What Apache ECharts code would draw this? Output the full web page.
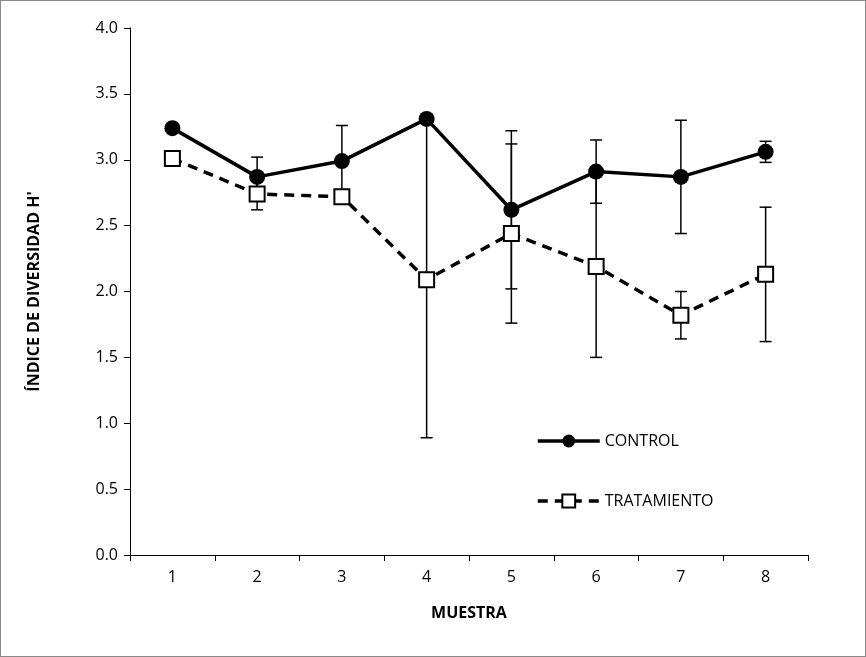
<!DOCTYPE html>
<html><head><meta charset="utf-8">
<script src="https://cdn.jsdelivr.net/npm/echarts@6/dist/echarts.min.js"></script>
<style>html,body{margin:0;padding:0;background:#fff}#c{width:864px;height:655px;border:1px solid #888}</style>
</head><body><div id="c"></div>
<script>
var muestras = ['1','2','3','4','5','6','7','8'];
var control = [3.24, 2.87, 2.99, 3.31, 2.62, 2.91, 2.87, 3.06];
var controlErr = [0.03, 0.15, 0.27, 0.03, 0.60, 0.24, 0.43, 0.08];
var tratamiento = [3.01, 2.74, 2.72, 2.09, 2.44, 2.19, 1.82, 2.13];
var tratamientoErr = [0.02, 0.12, 0.03, 1.20, 0.68, 0.69, 0.18, 0.51];

var chart = echarts.init(document.getElementById('c'));
var fnt = '"Open Sans", "Liberation Sans", sans-serif';

var errData = function(vals, errs){
    return vals.map(function(v, i){ return [i, v - errs[i], v + errs[i]]; });
};
var renderErr = function(params, api){
    var x = api.value(0);
    var lo = api.coord([x, api.value(1)]);
    var hi = api.coord([x, api.value(2)]);
    var w = 6;
    var st = {stroke: '#000', lineWidth: 1.5};
    return {type: 'group', children: [
        {type: 'line', shape: {x1: lo[0], y1: lo[1], x2: hi[0], y2: hi[1]}, style: st},
        {type: 'line', shape: {x1: lo[0]-w, y1: lo[1], x2: lo[0]+w, y2: lo[1]}, style: st},
        {type: 'line', shape: {x1: hi[0]-w, y1: hi[1], x2: hi[0]+w, y2: hi[1]}, style: st}
    ]};
};

chart.setOption({
    animation: false,
    textStyle: {fontFamily: fnt},
    grid: {left: 129, right: 57, top: 27, bottom: 101},
    legend: {
        orient: 'vertical', left: 530, top: 427, itemGap: 44, itemWidth: 62, itemHeight: 16,
        textStyle: {fontSize: 16, color: '#000', fontFamily: fnt},
        lineStyle: {width: 3.5},
        data: ['CONTROL', 'TRATAMIENTO']
    },
    xAxis: {
        type: 'category', data: muestras, boundaryGap: true,
        name: 'MUESTRA', nameLocation: 'middle', nameGap: 50,
        nameTextStyle: {fontSize: 16, fontWeight: 'bold', color: '#000'},
        axisLine: {lineStyle: {color: '#000', width: 1}},
        axisTick: {show: true, length: 6, lineStyle: {color: '#000'}},
        axisLabel: {fontSize: 16, color: '#000', margin: 14}
    },
    yAxis: {
        type: 'value', min: 0, max: 4, interval: 0.5,
        name: "ÍNDICE DE DIVERSIDAD H'", nameLocation: 'middle', nameGap: 88,
        nameTextStyle: {fontSize: 16, fontWeight: 'bold', color: '#000'},
        splitLine: {show: false},
        axisLine: {show: true, lineStyle: {color: '#000', width: 1}},
        axisTick: {show: true, length: 6, lineStyle: {color: '#000'}},
        axisLabel: {fontSize: 16, color: '#000', margin: 12, formatter: function(v){ return v.toFixed(1); }}
    },
    series: [
        {type: 'custom', renderItem: renderErr, data: errData(control, controlErr), z: 1, silent: true},
        {type: 'custom', renderItem: renderErr, data: errData(tratamiento, tratamientoErr), z: 1, silent: true},
        {name: 'CONTROL', type: 'line', data: control, symbol: 'circle', symbolSize: 16, z: 3,
         lineStyle: {color: '#000', width: 3.5}, itemStyle: {color: '#000'}},
        {name: 'TRATAMIENTO', type: 'line', data: tratamiento, symbol: 'rect', symbolSize: 15, z: 4,
         lineStyle: {color: '#000', width: 3.5, type: [10, 7]},
         itemStyle: {color: '#fff', borderColor: '#000', borderWidth: 2}}
    ]
});
</script></body></html>
